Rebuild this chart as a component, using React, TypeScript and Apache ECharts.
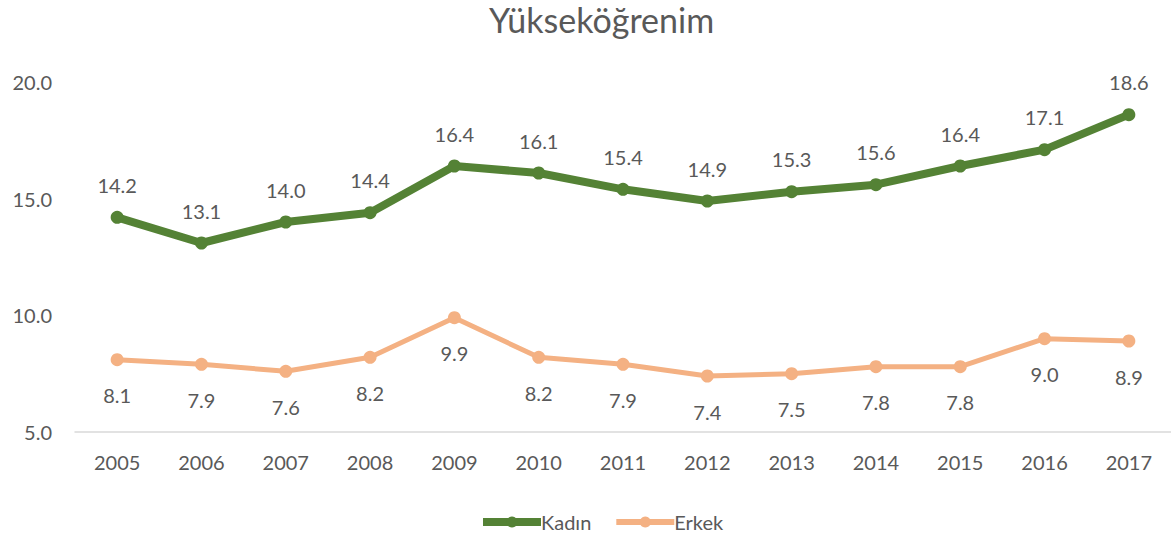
import React, { useEffect, useRef } from "react";
import * as echarts from "echarts";

const categories = ["2005", "2006", "2007", "2008", "2009", "2010", "2011", "2012", "2013", "2014", "2015", "2016", "2017"];
const kadin = [14.2, 13.1, 14.0, 14.4, 16.4, 16.1, 15.4, 14.9, 15.3, 15.6, 16.4, 17.1, 18.6];
const erkek = [8.1, 7.9, 7.6, 8.2, 9.9, 8.2, 7.9, 7.4, 7.5, 7.8, 7.8, 9.0, 8.9];

const FONT = "Lato, 'Noto Sans', sans-serif";
const TEXT = "#595959";
const GREEN = "#548235";
const ORANGE = "#F4B183";

export default function App() {
  const ref = useRef<HTMLDivElement>(null);
  useEffect(() => {
    document.body.style.margin = "0";
    const chart = echarts.init(ref.current!, undefined, { renderer: "svg" });
    chart.setOption({
      animation: false,
      textStyle: { fontFamily: FONT, color: TEXT },
      title: {
        text: "Yükseköğrenim",
        left: 484,
        top: -3,
        textStyle: { fontFamily: FONT, fontSize: 34, fontWeight: "normal", color: TEXT },
      },
      legend: {
        top: 507,
        left: 474,
        itemWidth: 58,
        itemHeight: 14,
        itemGap: 22,
        textStyle: { fontFamily: FONT, fontSize: 20, color: TEXT, padding: [0, 0, 0, -5] },
        data: [
          { name: "Kadın", lineStyle: { width: 8, color: GREEN }, itemStyle: { color: GREEN } },
          { name: "Erkek", lineStyle: { width: 6, color: ORANGE }, itemStyle: { color: ORANGE } },
        ],
      },
      grid: { left: 75, top: 82, height: 350, width: 1100 },
      xAxis: {
        type: "category",
        data: categories,
        boundaryGap: true,
        axisLine: { lineStyle: { color: "#d9d9d9", width: 1.5 } },
        axisTick: { show: false },
        axisLabel: { color: TEXT, fontSize: 20, fontFamily: FONT, margin: 20 },
      },
      yAxis: {
        type: "value",
        min: 5,
        max: 20,
        interval: 5,
        axisLine: { show: false },
        axisTick: { show: false },
        splitLine: { show: false },
        axisLabel: {
          color: TEXT,
          fontSize: 20,
          fontFamily: FONT,
          margin: 23,
          formatter: (v: number) => v.toFixed(1),
        },
      },
      series: [
        {
          name: "Kadın",
          type: "line",
          data: kadin,
          symbol: "circle",
          symbolSize: 13,
          itemStyle: { color: GREEN },
          lineStyle: { color: GREEN, width: 8 },
          label: {
            show: true,
            position: "top",
            distance: 16,
            fontSize: 20,
            fontFamily: FONT,
            color: TEXT,
            formatter: (p: any) => Number(p.value).toFixed(1),
          },
        },
        {
          name: "Erkek",
          type: "line",
          data: erkek,
          symbol: "circle",
          symbolSize: 13,
          itemStyle: { color: ORANGE },
          lineStyle: { color: ORANGE, width: 5 },
          label: {
            show: true,
            position: "bottom",
            distance: 19,
            fontSize: 20,
            fontFamily: FONT,
            color: TEXT,
            formatter: (p: any) => Number(p.value).toFixed(1),
          },
        },
      ],
    });
    return () => chart.dispose();
  }, []);
  return <div ref={ref} style={{ width: 1171, height: 535 }} />;
}
